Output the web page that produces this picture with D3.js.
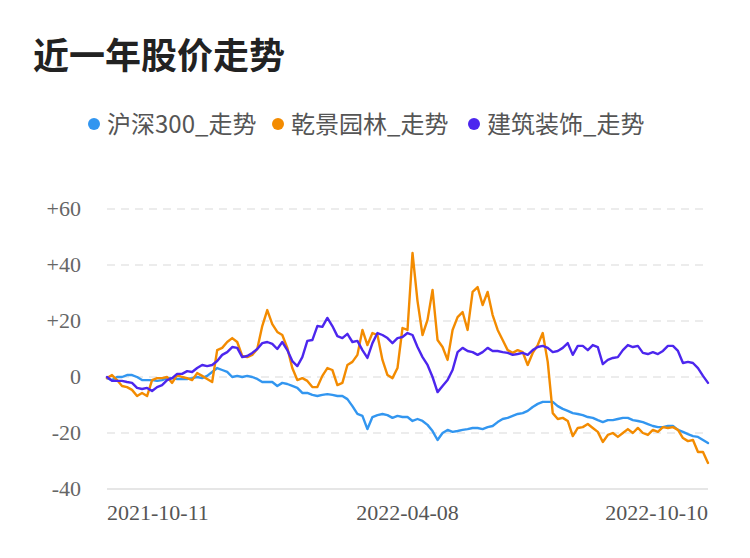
<!DOCTYPE html>
<html><head><meta charset="utf-8">
<script src="https://cdn.jsdelivr.net/npm/d3@7"></script>
<style>html,body{margin:0;padding:0;background:#fff;}svg{display:block;}</style>
</head><body><svg id="c" width="750" height="558"></svg>
<script>
const title = "近一年股价走势";
const seriesNames = ["沪深300_走势", "乾景园林_走势", "建筑装饰_走势"];
const seriesColors = ["#3296f0", "#f38b00", "#4c26ee"];
const xTickLabels = ["2021-10-11", "2022-04-08", "2022-10-10"];
const yTicks = [-40, -20, 0, 20, 40, 60];

const hs300 = [-0.4,-1.1,0,0,0.7,0.7,0,-1.1,-1.1,-1.1,-1.4,-1.1,-0.4,-0.4,-0.7,-0.7,-0.7,-0.4,0,-0.4,
0.4,1.8,3.2,2.5,1.8,0,0.4,0,0.4,0,-0.7,-1.8,-1.8,-1.8,-3.2,-2.1,-2.5,-3.2,-3.9,-5.7,
-5.7,-6.4,-6.8,-6.4,-6.1,-6.4,-6.8,-6.8,-7.9,-10.4,-13.2,-13.9,-18.6,-14.3,-13.6,-13.2,-13.6,-14.6,-13.9,-14.3,
-14.3,-15.7,-15,-15.7,-17.1,-19.3,-22.5,-20,-18.9,-19.6,-19.3,-18.9,-18.6,-18.2,-18.2,-18.6,-17.9,-17.5,-16.1,-15,
-14.6,-13.9,-13.2,-12.9,-12.1,-10.7,-9.6,-8.9,-8.9,-8.9,-10.4,-11.4,-12.1,-12.9,-13.2,-13.6,-14.3,-14.6,-15.4,-16.1,
-15.4,-15.4,-15,-14.6,-14.6,-15.4,-15.7,-16.1,-16.8,-17.5,-17.9,-17.9,-17.5,-17.5,-18.9,-19.6,-20.4,-21.1,-21.4,-22.5,-23.6];

const qjyl = [-0.4,0.7,-1.1,-3.2,-3.6,-4.6,-6.8,-5.7,-6.8,-1.1,-0.4,-0.4,0,-2.1,0.7,0,-0.4,-1.1,1.4,0.4,
-0.7,-1.8,9.6,10.4,12.5,13.9,12.5,7.5,7.1,7.9,10,18.2,23.9,18.9,16.1,15,10.4,3.2,-1.1,-0.4,
-1.4,-3.6,-3.6,0.4,3.2,2.5,-2.9,-2.1,4.3,5.4,7.9,16.8,11.4,15.7,15,6.1,0.7,-0.4,3.2,17.5,
16.8,44.3,27.1,15,20.4,31.1,13.2,10.7,6.1,16.8,21.4,23.2,16.8,30.4,32.1,25.7,30.4,22.1,16.8,13.2,
9.6,8.6,9.6,8.9,4.3,8.6,11.4,15.7,5.4,-12.9,-15,-14.6,-15.7,-21.1,-18.2,-17.9,-16.8,-18.2,-19.6,-23.2,
-20.7,-20,-21.4,-20,-18.6,-20,-18.2,-20,-20.7,-18.9,-19.6,-17.9,-18.2,-17.9,-18.9,-21.8,-22.9,-22.5,-26.8,-26.8,-30.7];

const jzzs = [0,-1.4,-1.4,-1.4,-1.8,-2.1,-3.9,-4.3,-3.9,-5,-3.6,-2.9,-1.1,-0.4,1.1,1.1,2.1,1.8,3.2,4.3,
3.9,4.3,5.7,7.9,8.9,10.7,10.4,7.1,7.5,8.6,10,12.1,12.5,11.8,10,12.5,9.6,5.7,3.9,7.1,
12.9,13.2,18.2,17.9,21.1,18.2,14.6,13.9,15.4,12.5,12.9,9.6,6.8,12.1,15.7,15,13.9,12.1,13.9,14.3,
15.7,15,10.7,7.1,4.3,0,-5.4,-3.2,-1.1,2.5,8.9,10.4,9.3,8.9,7.9,8.9,10.4,9.3,9.3,8.9,
8.6,7.9,8.2,8.6,7.9,9.6,10.7,11.1,10.4,8.9,9.3,10.4,12.1,7.9,11.1,11.1,9.6,11.4,10.7,4.6,
6.1,6.8,7.1,9.6,11.4,10.7,11.1,8.6,8.2,8.9,8.2,9.3,11.1,11.1,9.3,5,5.4,5,3.2,0.4,-2.1];

const seriesData = [hs300, qjyl, jzzs];

const svg = d3.select("#c");
const cjk = "'Noto Sans CJK SC','Noto Sans',sans-serif";
const serif = "'Liberation Serif','DejaVu Serif',serif";

svg.append("text").attr("x", 33).attr("y", 69).text(title)
  .attr("font-family", cjk).attr("font-weight", "bold").attr("font-size", 36).attr("fill", "#222");

// legend
const legendX = [94, 278, 474];
seriesNames.forEach((n, i) => {
  const g = svg.append("g").attr("transform", `translate(${legendX[i]},124)`);
  g.append("circle").attr("r", 6).attr("fill", seriesColors[i]);
  g.append("text").attr("x", 13).attr("y", 9).text(n)
    .attr("font-family", cjk).attr("font-size", 24).attr("fill", "#555");
});

const N = hs300.length;
const x = d3.scaleLinear().domain([0, N - 1]).range([107, 708]);
const y = d3.scaleLinear().domain([-40, 60]).range([489, 209]);

// grid
const gy = svg.append("g");
yTicks.forEach(t => {
  gy.append("line").attr("x1", 107).attr("x2", 708).attr("y1", y(t)).attr("y2", y(t))
    .attr("stroke", t === -40 ? "#e6e6e6" : "#ececec").attr("stroke-width", 2)
    .attr("stroke-dasharray", t === -40 ? null : "8,6");
  gy.append("text").attr("x", 81).attr("y", y(t) + 7).attr("text-anchor", "end")
    .text(t > 0 ? "+" + t : String(t))
    .attr("font-family", serif).attr("font-size", 22).attr("fill", "#666");
});

// x labels
const xIdx = [0, (N - 1) / 2, N - 1];
const anchors = ["start", "middle", "end"];
xTickLabels.forEach((l, i) => {
  svg.append("text").attr("x", x(xIdx[i])).attr("y", 520).attr("text-anchor", anchors[i])
    .text(l).attr("font-family", serif).attr("font-size", 22).attr("fill", "#555");
});

const line = d3.line().x((d, i) => x(i)).y(d => y(d)).curve(d3.curveLinear);
seriesData.forEach((s, i) => {
  svg.append("path").datum(s).attr("d", line).attr("fill", "none")
    .attr("stroke", seriesColors[i]).attr("stroke-width", 2.4)
    .attr("stroke-linejoin", "round").attr("stroke-linecap", "round");
});
</script></body></html>
